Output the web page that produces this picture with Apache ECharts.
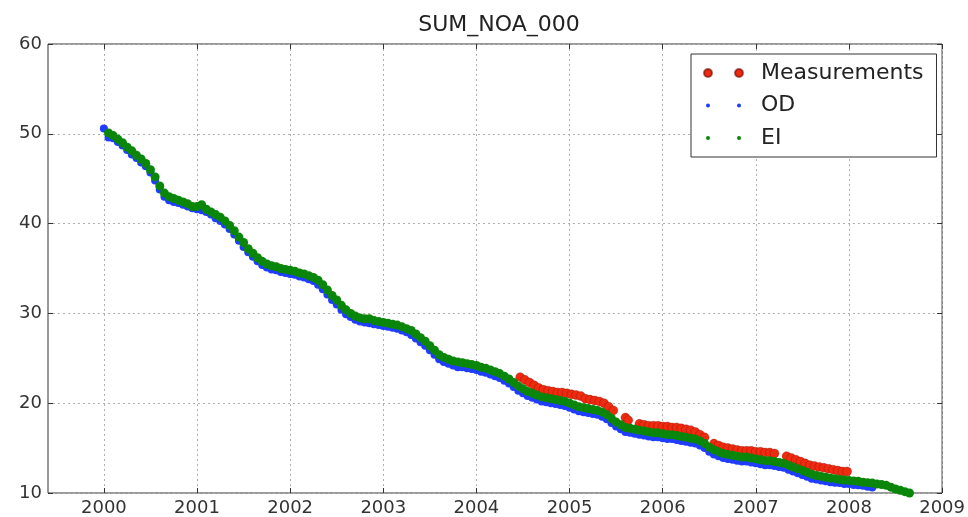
<!DOCTYPE html>
<html>
<head>
<meta charset="utf-8">
<script src="https://cdn.jsdelivr.net/npm/echarts@6/dist/echarts.min.js"></script>
<style>html,body{margin:0;padding:0;background:#fff}#c{width:968px;height:517px}</style>
</head>
<body>
<div id="c"></div>
<script>
const xTicks = [2000, 2001, 2002, 2003, 2004, 2005, 2006, 2007, 2008, 2009];
const yTicks = [10, 20, 30, 40, 50, 60];

const sampleYears = [
2000.00,2000.05,2000.10,2000.15,2000.20,2000.25,2000.30,2000.35,2000.40,2000.45,
2000.50,2000.55,2000.60,2000.65,2000.70,2000.75,2000.80,2000.85,2000.90,2000.95,
2001.00,2001.05,2001.10,2001.15,2001.20,2001.25,2001.30,2001.35,2001.40,2001.45,
2001.50,2001.55,2001.60,2001.65,2001.70,2001.75,2001.80,2001.85,2001.90,2001.95,
2002.00,2002.05,2002.10,2002.15,2002.20,2002.25,2002.30,2002.35,2002.40,2002.45,
2002.50,2002.55,2002.60,2002.65,2002.70,2002.75,2002.80,2002.85,2002.90,2002.95,
2003.00,2003.05,2003.10,2003.15,2003.20,2003.25,2003.30,2003.35,2003.40,2003.45,
2003.50,2003.55,2003.60,2003.65,2003.70,2003.75,2003.80,2003.85,2003.90,2003.95,
2004.00,2004.05,2004.10,2004.15,2004.20,2004.25,2004.30,2004.35,2004.40,2004.45,
2004.50,2004.55,2004.60,2004.65,2004.70,2004.75,2004.80,2004.85,2004.90,2004.95,
2005.00,2005.05,2005.10,2005.15,2005.20,2005.25,2005.30,2005.35,2005.40,2005.45,
2005.50,2005.55,2005.60,2005.65,2005.70,2005.75,2005.80,2005.85,2005.90,2005.95,
2006.00,2006.05,2006.10,2006.15,2006.20,2006.25,2006.30,2006.35,2006.40,2006.45,
2006.50,2006.55,2006.60,2006.65,2006.70,2006.75,2006.80,2006.85,2006.90,2006.95,
2007.00,2007.05,2007.10,2007.15,2007.20,2007.25,2007.30,2007.35,2007.40,2007.45,
2007.50,2007.55,2007.60,2007.65,2007.70,2007.75,2007.80,2007.85,2007.90,2007.95,
2008.00,2008.05,2008.10,2008.15,2008.20,2008.25,2008.30,2008.35,2008.40,2008.45,
2008.50,2008.55,2008.60,2008.65
];

const eiValues = [
'-',50.1,49.8,49.4,49.0,48.5,48.1,47.6,47.2,46.7,
46.0,45.2,44.2,43.4,43.0,42.8,42.6,42.4,42.2,41.9,
41.9,42.1,41.6,41.3,41.0,40.7,40.3,39.8,39.2,38.5,
37.9,37.2,36.7,36.2,35.8,35.5,35.3,35.2,35.0,34.9,
34.8,34.7,34.5,34.4,34.2,34.0,33.7,33.2,32.6,32.0,
31.5,30.9,30.4,30.0,29.7,29.5,29.4,29.4,29.2,29.1,
29.0,28.9,28.8,28.7,28.5,28.3,28.1,27.7,27.3,26.9,
26.4,25.9,25.4,25.1,24.9,24.7,24.6,24.5,24.4,24.3,
24.2,24.0,23.9,23.7,23.5,23.3,23.0,22.7,22.3,21.9,
21.6,21.3,21.1,20.9,20.7,20.6,20.5,20.4,20.3,20.2,
20.0,19.8,19.6,19.5,19.4,19.3,19.2,19.0,18.7,18.3,
17.9,17.6,17.3,17.2,17.1,17.0,16.9,16.8,16.7,16.7,
16.6,16.5,16.5,16.4,16.3,16.2,16.1,16.0,15.8,15.5,
15.1,14.8,14.6,14.4,14.3,14.2,14.1,14.0,14.0,13.9,
13.8,13.7,13.6,13.6,13.5,13.4,13.3,13.1,12.9,12.7,
12.5,12.3,12.1,11.95,11.85,11.75,11.65,11.6,11.5,11.45,
11.4,11.35,11.3,11.2,11.15,11.1,11.0,10.95,10.85,10.65,
10.45,10.3,10.15,10.0
];

const odValues = [
50.6,49.6,49.5,49.1,48.7,48.2,47.7,47.3,46.8,46.4,
45.7,44.8,43.8,43.0,42.6,42.4,42.3,42.1,41.9,41.7,
41.6,41.5,41.3,41.0,40.6,40.3,39.9,39.4,38.8,38.1,
37.4,36.8,36.3,35.8,35.4,35.1,34.9,34.8,34.6,34.5,
34.4,34.3,34.1,34.0,33.8,33.6,33.2,32.7,32.1,31.5,
31.0,30.4,29.9,29.6,29.3,29.1,29.0,28.9,28.8,28.7,
28.6,28.5,28.4,28.3,28.1,27.9,27.6,27.2,26.8,26.4,
25.9,25.4,24.9,24.6,24.4,24.2,24.0,24.0,23.9,23.8,
23.7,23.5,23.4,23.2,23.0,22.8,22.5,22.2,21.8,21.4,
21.1,20.8,20.6,20.4,20.2,20.1,20.0,19.9,19.8,19.7,
19.5,19.3,19.1,19.0,18.9,18.8,18.7,18.5,18.2,17.8,
17.4,17.1,16.8,16.7,16.6,16.5,16.4,16.3,16.2,16.2,
16.1,16.0,16.0,15.9,15.8,15.7,15.6,15.5,15.3,15.0,
14.6,14.3,14.1,13.9,13.8,13.7,13.6,13.5,13.5,13.4,
13.3,13.2,13.1,13.1,13.0,12.9,12.8,12.6,12.4,12.2,
12.0,11.8,11.6,11.5,11.4,11.3,11.2,11.15,11.1,11.0,
11.0,10.9,10.85,10.8,10.7,10.6
];

const measYears = [
2004.47,2004.52,2004.57,2004.62,2004.67,2004.72,2004.77,2004.82,2004.87,2004.92,
2004.97,2005.02,2005.07,2005.12,2005.17,2005.22,2005.27,2005.32,2005.37,2005.42,
2005.47,2005.60,2005.63,2005.75,2005.80,2005.85,2005.90,2005.95,2006.00,2006.05,
2006.10,2006.15,2006.20,2006.25,2006.30,2006.35,2006.40,2006.45,2006.55,2006.60,
2006.65,2006.70,2006.75,2006.80,2006.85,2006.90,2006.95,2007.00,2007.05,2007.10,
2007.15,2007.20,2007.33,2007.38,2007.43,2007.48,2007.53,2007.58,2007.63,2007.68,
2007.73,2007.78,2007.83,2007.88,2007.93,2007.98
];
const measValues = [
22.9,22.6,22.3,22.0,21.7,21.5,21.4,21.3,21.2,21.2,
21.1,21.0,20.9,20.8,20.5,20.4,20.3,20.2,20.0,19.6,
19.2,18.4,18.1,17.7,17.6,17.5,17.5,17.5,17.4,17.4,
17.3,17.3,17.2,17.1,17.0,16.8,16.5,16.2,15.5,15.3,
15.1,15.0,14.9,14.8,14.7,14.7,14.7,14.6,14.6,14.5,
14.5,14.4,14.1,13.9,13.7,13.5,13.3,13.1,13.0,12.9,
12.8,12.7,12.6,12.5,12.4,12.4
];

function pairs(xs, ys) {
  const out = [];
  for (let i = 0; i < ys.length; i++) {
    if (ys[i] !== '-') out.push([xs[i], ys[i]]);
  }
  return out;
}

const FONT = 'DejaVu Sans';
const bigIcon = 'path://M0 0M52 8M0 4a4 4 0 1 0 8 0a4 4 0 1 0 -8 0ZM31 4a4 4 0 1 0 8 0a4 4 0 1 0 -8 0Z';
const smallIcon = 'path://M0 0M52 8M2 4a2 2 0 1 0 4 0a2 2 0 1 0 -4 0ZM33 4a2 2 0 1 0 4 0a2 2 0 1 0 -4 0Z';
const gridLine = { show: true, lineStyle: { color: '#b0b0b0', type: [2, 3], width: 1 } };

const chart = echarts.init(document.getElementById('c'), null, { renderer: 'canvas' });
chart.setOption({
  animation: false,
  backgroundColor: '#fff',
  title: {
    text: 'SUM_NOA_000',
    left: 494, top: 9, textAlign: 'center',
    textStyle: { fontFamily: FONT, fontSize: 22, fontWeight: 'normal', color: '#222' }
  },
  grid: {
    left: 48, right: 23, top: 44, bottom: 24,
    show: true, borderColor: '#333', borderWidth: 1, backgroundColor: 'transparent'
  },
  legend: {
    orient: 'vertical', left: 691, top: 54,
    padding: [8, 13, 8, 12], itemGap: 10.5,
    itemWidth: 52, itemHeight: 8,
    backgroundColor: '#fff', borderColor: '#333', borderWidth: 1,
    selectedMode: false, z: 10,
    textStyle: { fontFamily: FONT, fontSize: 22, color: '#222' },
    data: [
      { name: 'Measurements', icon: bigIcon },
      { name: 'OD', icon: smallIcon },
      { name: 'EI', icon: smallIcon }
    ]
  },
  xAxis: [{
    type: 'value', min: 1999.4, max: 2009, position: 'bottom',
    axisLine: { show: false },
    axisTick: { show: true, inside: true, length: 5, customValues: xTicks, lineStyle: { color: '#333' } },
    axisLabel: { customValues: xTicks, formatter: v => String(v), fontFamily: FONT, fontSize: 18, color: '#333', margin: 6 },
    splitLine: gridLine
  }, {
    type: 'value', min: 1999.4, max: 2009, position: 'top',
    axisLine: { show: false },
    axisTick: { show: true, inside: true, length: 5, customValues: xTicks, lineStyle: { color: '#333' } },
    axisLabel: { show: false },
    splitLine: { show: false }
  }],
  yAxis: [{
    type: 'value', min: 10, max: 60, interval: 10, position: 'left',
    axisLine: { show: false },
    axisTick: { show: true, inside: true, length: 5, lineStyle: { color: '#333' } },
    axisLabel: { fontFamily: FONT, fontSize: 18, color: '#333', margin: 6 },
    splitLine: gridLine
  }, {
    type: 'value', min: 10, max: 60, interval: 10, position: 'right',
    axisLine: { show: false },
    axisTick: { show: true, inside: true, length: 5, lineStyle: { color: '#333' } },
    axisLabel: { show: false },
    splitLine: { show: false }
  }],
  series: [{
    name: 'Measurements', type: 'scatter', symbolSize: 9,
    itemStyle: { color: '#ee2a10', borderColor: 'rgba(110,10,0,0.6)', borderWidth: 0.5, opacity: 1 },
    data: pairs(measYears, measValues), z: 2
  }, {
    name: 'OD', type: 'scatter', symbolSize: 8,
    itemStyle: { color: '#1f3cff', opacity: 1 },
    data: pairs(sampleYears, odValues), z: 3
  }, {
    name: 'EI', type: 'scatter', symbolSize: 9,
    itemStyle: { color: '#0a860a', opacity: 1 },
    data: pairs(sampleYears, eiValues), z: 4
  }]
});
</script>
</body>
</html>
